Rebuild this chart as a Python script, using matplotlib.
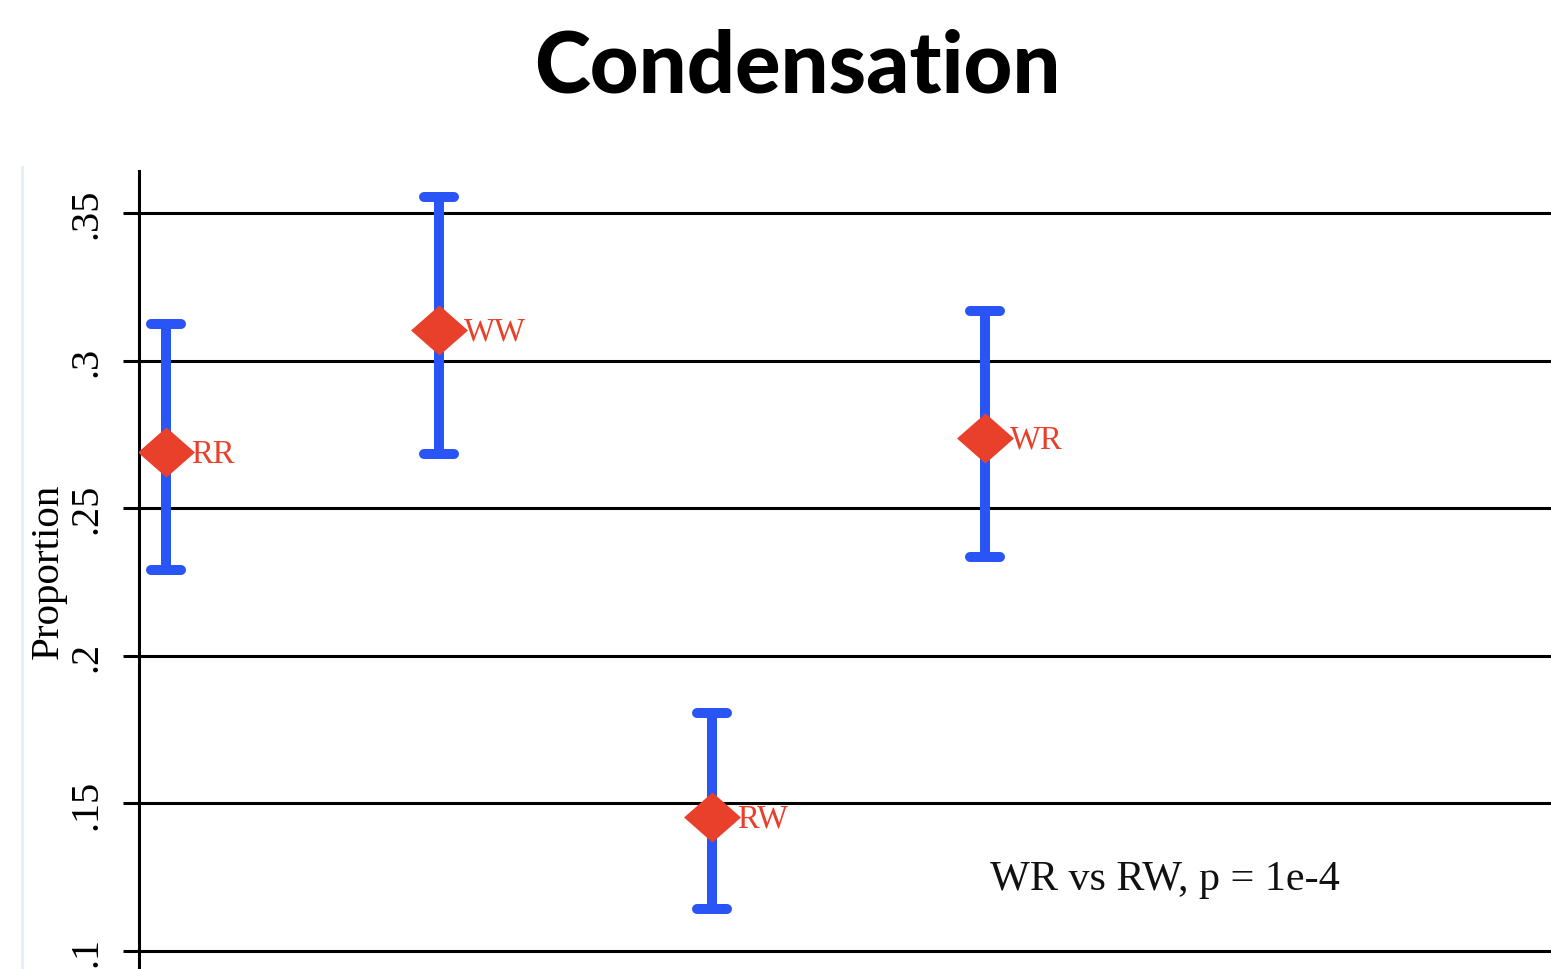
import matplotlib
matplotlib.use("Agg")
import matplotlib.pyplot as plt
from matplotlib.lines import Line2D

# Condition means with their confidence intervals
conditions = ["RR", "WW", "RW", "WR"]
means = [0.269, 0.3104, 0.1454, 0.2738]
lower = [0.229, 0.2684, 0.1142, 0.2335]
upper = [0.3124, 0.3554, 0.1806, 0.3168]
positions = [1, 2, 3, 4]

y_ticks = [0.10, 0.15, 0.20, 0.25, 0.30, 0.35]
y_tick_labels = [".1", ".15", ".2", ".25", ".3", ".35"]

title_text = "Condensation"
y_label = "Proportion"
note_text = "WR vs RW, p = 1e-4"

BLUE = "#2a55f6"
RED = "#e8402a"
SERIF = ["Liberation Serif", "DejaVu Serif"]

W, H = 1551, 970
fig = plt.figure(figsize=(W / 100, H / 100), dpi=100)
fig.patch.set_facecolor("white")

ax = fig.add_axes([139 / W, 0.0, 1 - 139 / W, (H - 172) / H])
ax.set_xlim(0.9011, 6.073)
ax.set_ylim(0.0939, 0.36423)

# horizontal reference lines
for yt in y_ticks:
    ax.axhline(yt, color="black", lw=2.2, zorder=1)

for s in ["top", "right", "bottom"]:
    ax.spines[s].set_visible(False)
ax.spines["left"].set_linewidth(2.2)
ax.spines["left"].set_color("black")

ax.set_xticks([])
ax.set_yticks(y_ticks)
ax.set_yticklabels(y_tick_labels, rotation=90, va="center",
                   family=SERIF, fontsize=29)
ax.tick_params(axis="y", length=11.5, width=2.2, pad=13, color="black")

ax.set_ylabel(y_label, family=SERIF, fontsize=29.5)
ax.yaxis.set_label_coords(-0.051, 0.5)

# confidence intervals: vertical bars with rounded caps
CAP_HALF = 0.055
ax.vlines(positions, lower, upper, color=BLUE, lw=7.2, zorder=3)
ax.hlines(lower, [p - CAP_HALF for p in positions],
          [p + CAP_HALF for p in positions],
          color=BLUE, lw=7.2, capstyle="round", zorder=3)
ax.hlines(upper, [p - CAP_HALF for p in positions],
          [p + CAP_HALF for p in positions],
          color=BLUE, lw=7.2, capstyle="round", zorder=3)

# point estimates as diamonds
diamond = [(-1, 0), (0, 0.88), (1, 0), (0, -0.88), (-1, 0)]
ax.plot(positions, means, linestyle="none", marker=diamond,
        markersize=41, color=RED, markeredgewidth=0, zorder=4)

for x, y, name in zip(positions, means, conditions):
    ax.annotate(name, (x, y), xytext=(18, -1), textcoords="offset points",
                ha="left", va="center", color=RED, family=SERIF,
                fontsize=23.5, zorder=5)

ax.text(4.018, 0.1244, note_text, ha="left", va="center",
        family=SERIF, fontsize=30.3, color="#111111")

fig.text(797 / W, 1 - 68 / H, title_text, ha="center", va="center",
         family=["Lato", "DejaVu Sans"], fontweight="black", fontsize=61,
         color="black")

# thin slide border on the left
fig.add_artist(Line2D([22 / W, 22 / W], [0, 1 - 168 / H],
                      transform=fig.transFigure, color="#e6eff7", lw=2))

fig.savefig("out.png", dpi=100, facecolor="white")
